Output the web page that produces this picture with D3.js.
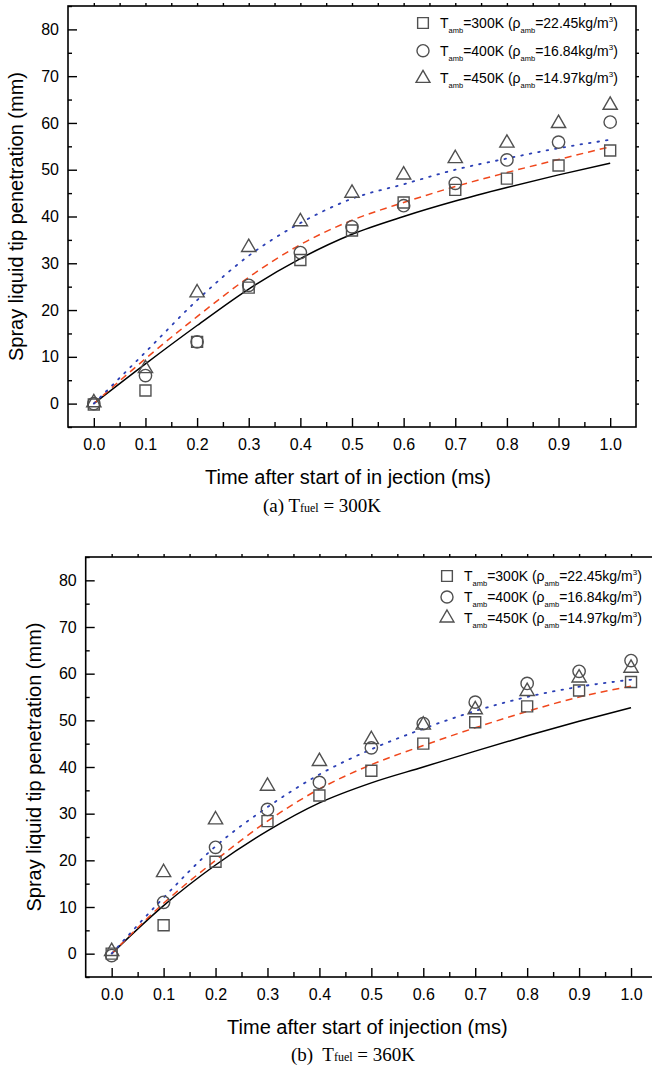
<!DOCTYPE html>
<html>
<head>
<meta charset="utf-8">
<script src="https://cdnjs.cloudflare.com/ajax/libs/d3/7.8.5/d3.min.js"></script>
<style>
  body { margin: 0; background: #fff; }
  svg { display: block; }
</style>
</head>
<body>
<div id="chart"></div>
<script>
// ---- data ----
const times = [0.0, 0.1, 0.2, 0.3, 0.4, 0.5, 0.6, 0.7, 0.8, 0.9, 1.0];
const xTickLabels = ["0.0", "0.1", "0.2", "0.3", "0.4", "0.5", "0.6", "0.7", "0.8", "0.9", "1.0"];
const yTicks = [0, 10, 20, 30, 40, 50, 60, 70, 80];

const legendTemps = ["300K", "400K", "450K"];
const legendDensity = ["22.45", "16.84", "14.97"];

// (a) T_fuel = 300K : measured points
const a300 = [-0.2, 2.8, 13.2, 24.8, 30.7, 37.0, 43.0, 45.7, 48.1, 50.9, 54.1];
const a400 = [0.0, 6.0, 13.2, 25.3, 32.3, 37.8, 42.3, 47.1, 52.1, 55.9, 60.2];
const a450 = [0.2, 7.5, 23.7, 33.4, 38.9, 45.0, 48.9, 52.4, 55.7, 59.9, 63.8];
// (a) simulation curves
const aSim300 = [0, 8.5, 16.7, 24.5, 31.0, 36.2, 40.0, 43.3, 46.2, 48.9, 51.4];
const aSim400 = [0, 9.6, 18.6, 27.0, 34.0, 39.2, 43.0, 46.4, 49.4, 52.2, 54.9];
const aSim450 = [0, 11.0, 22.1, 31.6, 38.6, 43.8, 46.9, 50.0, 52.4, 54.6, 56.4];

// (b) T_fuel = 360K : measured points
const b300 = [0.0, 6.1, 19.7, 28.4, 33.9, 39.2, 45.0, 49.6, 53.0, 56.4, 58.2];
const b400 = [-0.4, 11.0, 22.8, 30.9, 36.7, 44.1, 49.3, 53.9, 57.9, 60.5, 62.8];
const b450 = [0.5, 17.4, 28.7, 35.9, 41.2, 45.9, 49.0, 52.3, 56.2, 59.1, 61.2];
// (b) simulation curves
const bSim300 = [0, 10.3, 19.0, 26.3, 32.3, 36.6, 40.0, 43.4, 46.7, 49.8, 52.7];
const bSim400 = [0, 10.8, 20.0, 28.4, 35.3, 40.5, 44.6, 48.4, 51.9, 55.0, 57.3];
const bSim450 = [0, 12.0, 23.0, 31.4, 38.4, 43.8, 48.2, 52.0, 55.0, 57.2, 58.7];

const svgWidth = 652;
const svgHeight = 1074;
const sans = "'Liberation Sans', Arial, Helvetica, sans-serif";
const serif = "'Liberation Serif', 'Times New Roman', serif";

const svg = d3.select("#chart").append("svg")
    .attr("width", svgWidth)
    .attr("height", svgHeight);

const lineStyles = [
    { color: "#000000", dash: null, width: 1.5 },
    { color: "#f0471c", dash: "7,5", width: 1.5 },
    { color: "#2b3fb5", dash: "1.6,7", width: 1.8 }
];
const symbols = [d3.symbolSquare, d3.symbolCircle, d3.symbolTriangle];
const symbolSizes = [121, 120, 88];
const markerColor = "#505050";

function drawPanel(p) {
    const x = d3.scaleLinear().domain([-0.05, 1.05]).range([p.left, p.right]);
    const y = d3.scaleLinear().domain([-5, 85]).range([p.bottom, p.top]);

    const g = svg.append("g");

    // frame
    g.append("rect")
        .attr("x", p.left).attr("y", p.top)
        .attr("width", p.right - p.left).attr("height", p.bottom - p.top)
        .attr("fill", "none").attr("stroke", "#000").attr("stroke-width", 1.6);

    const minorX = d3.range(0.05, 1.0, 0.1);
    const minorY = d3.range(-5, 86, 10);

    // bottom axis (ticks pointing in)
    g.append("g")
        .attr("transform", `translate(0,${p.bottom})`)
        .call(d3.axisBottom(x).tickValues(times).tickFormat((d, i) => xTickLabels[i])
            .tickSize(-9).tickSizeOuter(0).tickPadding(12));
    g.append("g")
        .attr("transform", `translate(0,${p.bottom})`)
        .call(d3.axisBottom(x).tickValues(minorX).tickFormat("").tickSize(-5).tickSizeOuter(0));

    // left axis (ticks pointing in)
    g.append("g")
        .attr("transform", `translate(${p.left},0)`)
        .call(d3.axisLeft(y).tickValues(yTicks).tickSize(-9).tickSizeOuter(0).tickPadding(9));
    g.append("g")
        .attr("transform", `translate(${p.left},0)`)
        .call(d3.axisLeft(y).tickValues(minorY).tickFormat("").tickSize(-4).tickSizeOuter(0));

    // top and right mirror ticks
    g.append("g")
        .attr("transform", `translate(0,${p.top})`)
        .call(d3.axisTop(x).tickValues(d3.range(0, 1.01, 0.05)).tickFormat("").tickSize(3).tickSizeOuter(0));
    g.append("g")
        .attr("transform", `translate(${p.right},0)`)
        .call(d3.axisRight(y).tickValues(d3.range(0, 81, 5)).tickFormat("").tickSize(3).tickSizeOuter(0));

    g.selectAll(".domain").remove();
    g.selectAll(".tick line").attr("stroke", "#000").attr("stroke-width", 1.4);
    g.selectAll(".tick text")
        .attr("fill", "#000")
        .style("font-family", sans)
        .style("font-size", "16px");

    // simulation lines
    const line = d3.line()
        .x((d, i) => x(times[i]))
        .y(d => y(d))
        .curve(d3.curveMonotoneX);

    p.sims.forEach((s, k) => {
        g.append("path")
            .datum(s)
            .attr("d", line)
            .attr("fill", "none")
            .attr("stroke", lineStyles[k].color)
            .attr("stroke-width", lineStyles[k].width)
            .attr("stroke-dasharray", lineStyles[k].dash)
            .attr("stroke-linecap", k === 2 ? "round" : "butt");
    });

    // measured points
    p.points.forEach((s, k) => {
        g.selectAll(null)
            .data(s)
            .enter()
            .append("path")
            .attr("transform", (d, i) => `translate(${x(times[i])},${y(d)})`)
            .attr("d", d3.symbol().type(symbols[k]).size(symbolSizes[k]))
            .attr("fill", "none")
            .attr("stroke", markerColor)
            .attr("stroke-width", 1.4);
    });

    // legend
    legendTemps.forEach((t, k) => {
        const ly = p.legendY + k * p.legendGap;
        g.append("path")
            .attr("transform", `translate(${p.legendX},${ly})`)
            .attr("d", d3.symbol().type(symbols[k]).size(symbolSizes[k] * 0.95))
            .attr("fill", "none")
            .attr("stroke", markerColor)
            .attr("stroke-width", 1.4);

        const txt = g.append("text")
            .attr("x", p.legendX + 17)
            .attr("y", ly + 5)
            .style("font-family", sans)
            .style("font-size", "14px")
            .attr("fill", "#000");
        txt.append("tspan").text("T");
        txt.append("tspan").attr("dy", 5).style("font-size", "7.5px").text("amb");
        txt.append("tspan").attr("dy", -5).text(`=${t} (ρ`);
        txt.append("tspan").attr("dy", 5).style("font-size", "7.5px").text("amb");
        txt.append("tspan").attr("dy", -5).text(`=${legendDensity[k]}kg/m`);
        txt.append("tspan").attr("dy", -6).style("font-size", "8px").text("3");
        txt.append("tspan").attr("dy", 6).text(")");
    });

    // axis titles
    svg.append("text")
        .attr("transform", `translate(${p.yTitleX},${(p.top + p.bottom) / 2}) rotate(-90)`)
        .attr("text-anchor", "middle")
        .style("font-family", sans)
        .style("font-size", "20px")
        .text("Spray liquid tip penetration (mm)");

    svg.append("text")
        .attr("x", (p.left + p.right) / 2 - 4)
        .attr("y", p.xTitleY)
        .attr("text-anchor", "middle")
        .style("font-family", sans)
        .style("font-size", "20px")
        .text(p.xTitle);

    // caption
    const cap = svg.append("text")
        .attr("x", p.captionX)
        .attr("y", p.captionY)
        .attr("text-anchor", "middle")
        .attr("xml:space", "preserve")
        .style("font-family", serif)
        .style("font-size", "19px")
        .style("white-space", "pre");
    cap.append("tspan").text(p.captionLead + "T");
    cap.append("tspan").style("font-size", "12px").text("fuel");
    cap.append("tspan").text(` = ${p.captionTemp}`);
}

drawPanel({
    left: 68, right: 636, top: 6, bottom: 427,
    points: [a300, a400, a450],
    sims: [aSim300, aSim400, aSim450],
    legendX: 423, legendY: 23, legendGap: 27.7,
    yTitleX: 23, xTitleY: 484,
    xTitle: "Time after start of in jection (ms)",
    captionX: 322, captionY: 512, captionLead: "(a) ", captionTemp: "300K"
});

drawPanel({
    left: 85.7, right: 657, top: 557, bottom: 977,
    points: [b300, b400, b450],
    sims: [bSim300, bSim400, bSim450],
    legendX: 447, legendY: 576, legendGap: 21,
    yTitleX: 41, xTitleY: 1034,
    xTitle: "Time after start of injection (ms)",
    captionX: 353, captionY: 1061, captionLead: "(b)  ", captionTemp: "360K"
});
</script>
</body>
</html>
